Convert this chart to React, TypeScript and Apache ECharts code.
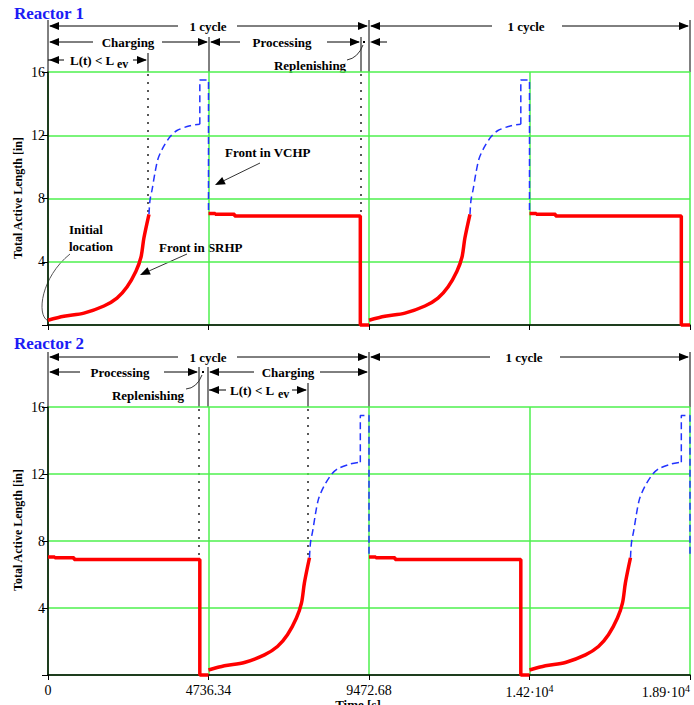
import React, { useEffect, useRef } from "react";
import * as echarts from "echarts";

// ---- Data ----
const HALF_CYCLE = 4736.34; // s
const X_TICKS = [0, 4736.34, 9472.68, 14209.02, 18945.36];
const X_TICK_LABELS = ["0", "4736.34", "9472.68", "1.42·10{sup|4}", "1.89·10{sup|4}"];

// Charging, front in SRHP (red), time measured from start of charging
const CHARGE_T = [0, 470, 1060, 1650, 2035, 2330, 2595, 2745, 2830, 2980];
const CHARGE_L = [0.3, 0.55, 0.75, 1.2, 1.7, 2.4, 3.4, 4.3, 5.5, 7.0];
// Charging, front in VCHP (blue dashed)
const VCHP_T = [2980, 3010, 3075, 3155, 3245, 3390, 3600, 3805, 4190, 4480];
const VCHP_L = [7.0, 7.9, 8.6, 9.6, 10.5, 11.2, 11.9, 12.3, 12.6, 12.7];
// End-of-charging spike (blue dashed)
const SPIKE_T = [4480, 4480, 4736.34, 4736.34];
const SPIKE_L = [12.7, 15.5, 15.5, 7.05];
// Processing + replenishing (red), time from start of processing
const PROC_T = [0, 200, 200, 770, 770, 4480, 4480, 4736.34];
const PROC_L = [7.05, 7.05, 7.0, 7.0, 6.9, 6.9, 0, 0];

// Phase start times per reactor
const R1_CHARGE_START = [0, 9472.68];
const R1_PROC_START = [4736.34, 14209.02];
const R2_CHARGE_START = [4736.34, 14209.02];
const R2_PROC_START = [0, 9472.68];

const SERIF = '"Liberation Serif", "DejaVu Serif", serif';
const RED = "#ff0000";
const BLUE = "#2233ff";
const GREEN = "#4ef04e";

function shifted(ts: number[], ls: number[], off: number) {
  return ts.map((t, i) => [t + off, ls[i]]);
}

export default function App() {
  const ref = useRef<HTMLDivElement>(null);
  useEffect(() => {
    if (!ref.current) return;
    const chart = echarts.init(ref.current, null, { renderer: "svg" });

    const series: any[] = [];
    const base = (idx: number) => ({ type: "line", xAxisIndex: idx, yAxisIndex: idx, symbol: "none", clip: false });
    const addReactor = (idx: number, chargeStarts: number[], procStarts: number[]) => {
      chargeStarts.forEach((o) => {
        series.push({
          ...base(idx), z: 4, smooth: 0.3,
          data: shifted(CHARGE_T, CHARGE_L, o),
          lineStyle: { color: RED, width: 3.5 },
        });
        series.push({
          ...base(idx), z: 3, smooth: 0.3,
          data: shifted(VCHP_T, VCHP_L, o),
          lineStyle: { color: BLUE, width: 1.5, type: [7, 4] },
        });
        series.push({
          ...base(idx), z: 3,
          data: shifted(SPIKE_T, SPIKE_L, o),
          lineStyle: { color: BLUE, width: 1.5, type: [7, 4] },
        });
      });
      procStarts.forEach((o) => {
        series.push({
          ...base(idx), z: 4,
          data: shifted(PROC_T, PROC_L, o),
          lineStyle: { color: RED, width: 3.5 },
        });
      });
    };
    addReactor(0, R1_CHARGE_START, R1_PROC_START);
    addReactor(1, R2_CHARGE_START, R2_PROC_START);

    const xAxis = (idx: number, labels: boolean) => ({
      type: "value", gridIndex: idx, min: 0, max: X_TICKS[X_TICKS.length - 1], interval: HALF_CYCLE,
      axisLine: { show: true, onZero: false, lineStyle: { color: "#000", width: 1.5 } },
      axisTick: { show: true, length: 5, lineStyle: { color: "#000" } },
      splitLine: { show: true, lineStyle: { color: GREEN, width: 1.5 } },
      axisLabel: {
        show: labels, margin: 8, color: "#000", fontFamily: SERIF, fontSize: 14,
        showMinLabel: true, showMaxLabel: true, alignMaxLabel: "right",
        formatter: (v: number) => {
          const i = X_TICKS.findIndex((t) => Math.abs(t - v) < 1);
          return i >= 0 ? X_TICK_LABELS[i] : "";
        },
        rich: { sup: { fontSize: 10, fontFamily: SERIF, color: "#000", padding: [0, 0, 9, 0] } },
      },
    });
    const yAxis = (idx: number) => ({
      type: "value", gridIndex: idx, min: 0, max: 16, interval: 4,
      axisLine: { show: true, lineStyle: { color: "#000", width: 1.5 } },
      axisTick: { show: true, length: 6, lineStyle: { color: "#000" } },
      splitLine: { show: true, lineStyle: { color: GREEN, width: 1.5 } },
      axisLabel: {
        margin: 3, color: "#000", fontFamily: SERIF, fontSize: 14,
        formatter: (v: number) => (v === 0 ? "" : String(v)),
      },
    });

    // ---- annotations ----
    const els: any[] = [];
    const BOLD = `bold 13px ${SERIF}`;
    const line = (x1: number, y1: number, x2: number, y2: number, st: any = {}) =>
      els.push({ type: "line", silent: true, shape: { x1, y1, x2, y2 }, style: { stroke: "#000", lineWidth: 1, ...st } });
    const headL = (x: number, y: number) =>
      els.push({ type: "polygon", silent: true, shape: { points: [[x, y], [x + 10, y - 4], [x + 10, y + 4]] }, style: { fill: "#000" } });
    const headR = (x: number, y: number) =>
      els.push({ type: "polygon", silent: true, shape: { points: [[x, y], [x - 10, y - 4], [x - 10, y + 4]] }, style: { fill: "#000" } });
    const text = (x: number, y: number, t: string, st: any = {}) =>
      els.push({ type: "text", silent: true, x, y, style: { text: t, font: BOLD, fill: "#000", align: "center", verticalAlign: "middle", ...st } });
    const span = (x1: number, x2: number, y: number, g1: number, g2: number, label: string, cx: number) => {
      line(x1 + 2, y, g1, y);
      line(g2, y, x2 - 2, y);
      headL(x1 + 1, y);
      headR(x2 - 1, y);
      text(cx, y, label);
    };
    const arrowTo = (x1: number, y1: number, x2: number, y2: number) => {
      const dx = x2 - x1, dy = y2 - y1, len = Math.hypot(dx, dy);
      const ux = dx / len, uy = dy / len;
      const bx = x2 - ux * 10, by = y2 - uy * 10;
      line(x1, y1, bx, by, { stroke: "#333" });
      els.push({ type: "polygon", silent: true, shape: { points: [[x2, y2], [bx - uy * 4, by + ux * 4], [bx + uy * 4, by - ux * 4]] }, style: { fill: "#000" } });
    };
    const dotted = (x: number, y1: number, y2: number) =>
      line(x, y1, x, y2, { stroke: "#222", lineWidth: 1.5, lineDash: [2, 6] });

    // Reactor 1
    text(14, 13, "Reactor 1", { font: `bold 17px ${SERIF}`, fill: "#1c1cf5", align: "left" });
    [[48, 20], [148, 53], [209, 37], [361, 37], [369, 20], [690, 20]].forEach(([x, y]) => line(x, y, x, 72));
    span(48, 369, 26, 178, 237, "1 cycle", 208);
    span(369, 690, 26, 492, 562, "1 cycle", 526);
    span(48, 209, 42, 93, 162, "Charging", 128);
    span(209, 361, 42, 240, 327, "Processing", 282);
    els.push({ type: "rect", silent: true, shape: { x: 363, y: 41, width: 2, height: 2 }, style: { fill: "#000" } });
    headL(370, 42);
    line(378, 42, 387, 42);
    line(48, 60, 64, 60);
    headL(49, 60);
    text(70, 60, "L(t) < L", { align: "left" });
    text(117, 64, "ev", { align: "left", font: `bold 12px ${SERIF}` });
    line(133, 60, 146, 60);
    headR(147, 60);
    text(310, 65, "Replenishing");
    els.push({ type: "bezierCurve", silent: true, shape: { x1: 347, y1: 60, cpx1: 358, cpy1: 58, x2: 363, y2: 45 }, style: { stroke: "#333", lineWidth: 1, fill: "none" } });
    dotted(148, 74, 212);
    dotted(361, 74, 214);
    text(69, 229, "Initial", { align: "left" });
    text(69, 246, "location", { align: "left" });
    els.push({ type: "bezierCurve", silent: true, shape: { x1: 70, y1: 254, cpx1: 40, cpy1: 278, cpx2: 36, cpy2: 318, x2: 49, y2: 321 }, style: { stroke: "#555", lineWidth: 1, fill: "none" } });
    text(159, 247, "Front in SRHP", { align: "left" });
    arrowTo(187, 254, 140, 275);
    text(225, 152, "Front in VCHP", { align: "left" });
    arrowTo(260, 163, 215, 185);

    // Reactor 2
    text(14, 343, "Reactor 2", { font: `bold 17px ${SERIF}`, fill: "#1c1cf5", align: "left" });
    [[48, 352], [199, 367], [208, 367], [308, 383], [369, 352], [690, 352]].forEach(([x, y]) => line(x, y, x, 407));
    span(48, 369, 357, 178, 237, "1 cycle", 208);
    span(369, 690, 357, 490, 560, "1 cycle", 524);
    span(48, 199, 372, 80, 164, "Processing", 120);
    els.push({ type: "rect", silent: true, shape: { x: 202, y: 371, width: 2, height: 2 }, style: { fill: "#000" } });
    span(208, 369, 372, 254, 320, "Charging", 288);
    line(209, 390, 226, 390);
    headL(209, 390);
    text(230, 390, "L(t) < L", { align: "left" });
    text(278, 394, "ev", { align: "left", font: `bold 12px ${SERIF}` });
    line(292, 390, 306, 390);
    headR(307, 390);
    text(148, 395, "Replenishing");
    els.push({ type: "bezierCurve", silent: true, shape: { x1: 186, y1: 389, cpx1: 197, cpy1: 388, x2: 202, y2: 375 }, style: { stroke: "#333", lineWidth: 1, fill: "none" } });
    dotted(199, 409, 556);
    dotted(308, 409, 556);

    // axis names
    const yName = "Total Active Length [in]";
    text(18, 198, yName, { font: `bold 12px ${SERIF}` });
    els[els.length - 1].rotation = Math.PI / 2;
    text(18, 530, yName, { font: `bold 12px ${SERIF}` });
    els[els.length - 1].rotation = Math.PI / 2;
    text(358, 698, "Time [s]", { font: `bold 13px ${SERIF}`, verticalAlign: "top" });

    chart.setOption({
      animation: false,
      backgroundColor: "#fff",
      grid: [
        { left: 48, top: 72, width: 642, height: 253 },
        { left: 48, top: 407, width: 642, height: 268 },
      ],
      xAxis: [xAxis(0, false), xAxis(1, true)],
      yAxis: [yAxis(0), yAxis(1)],
      series,
      graphic: { elements: els },
    });
    return () => chart.dispose();
  }, []);
  return <div ref={ref} style={{ position: "absolute", left: 0, top: 0, width: 694, height: 705 }} />;
}
